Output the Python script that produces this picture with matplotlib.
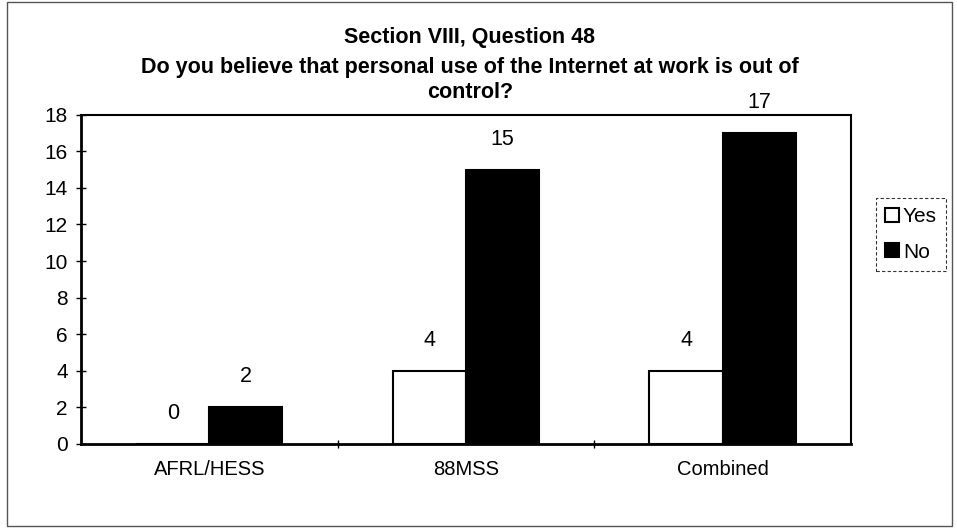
import numpy as np
import matplotlib
matplotlib.use('Agg')
import matplotlib.pyplot as plt
from matplotlib.patches import Rectangle

font = {'family': ['Liberation Sans', 'DejaVu Sans'], 'size': 14}
matplotlib.rc('font', **font)

## data
groups = ['AFRL/HESS', '88MSS', 'Combined']
yes = [0, 4, 4]
no = [2, 15, 17]
yticks = list(range(0, 19, 2))

## plot
fig = plt.figure(figsize=(9.57, 5.29), dpi=100)
ax = fig.add_axes([0.0846, 0.161, 0.8046, 0.622])

x = np.arange(len(groups))
w = 0.285
b_yes = ax.bar(x - w / 2, yes, w, color='white', edgecolor='black', linewidth=1.5, label='Yes')
b_no = ax.bar(x + w / 2, no, w, color='black', edgecolor='black', linewidth=1.5, label='No')

for bars, vals in [(b_yes, yes), (b_no, no)]:
    for r, v in zip(bars, vals):
        ax.annotate(str(v), (r.get_x() + r.get_width() / 2, v), xytext=(0, 22),
                    textcoords='offset points', ha='center', va='center', fontsize=15.5)

ax.set_xlim(-0.5, len(groups) - 0.5)
ax.set_ylim(0, 18)
ax.set_yticks(yticks)
ax.set_xticks(x)
ax.set_xticklabels(groups, fontsize=14.5)
ax.tick_params(axis='y', direction='inout', length=7, width=1, labelsize=15, pad=6)
ax.tick_params(axis='x', length=0, pad=12)
# small separators between the groups
ax.set_xticks(x[:-1] + 0.5, minor=True)
ax.tick_params(axis='x', which='minor', direction='inout', length=6, width=1)
for s in ax.spines.values():
    s.set_linewidth(1.5)
ax.spines['left'].set_linewidth(2)
ax.spines['bottom'].set_linewidth(2)

fig.text(0.491, 0.930, 'Section VIII, Question 48', ha='center', va='center',
         fontsize=15.5, fontweight='bold')
fig.text(0.491, 0.873, 'Do you believe that personal use of the Internet at work is out of',
         ha='center', va='center', fontsize=15.5, fontweight='bold')
fig.text(0.491, 0.826, 'control?', ha='center', va='center', fontsize=15.5, fontweight='bold')

leg = fig.legend(handles=[b_yes, b_no], loc='center', bbox_to_anchor=(0.952, 0.557),
                 frameon=True, fancybox=False, edgecolor='black', handlelength=0.65,
                 handleheight=0.65, handletextpad=0.2, labelspacing=0.8, borderpad=0.45,
                 fontsize=15)
leg.get_frame().set_linestyle((0, (3, 2)))
leg.get_frame().set_linewidth(0.8)

# outer chart border
fig.patches.append(Rectangle((0.007, 0.006), 0.988, 0.99, transform=fig.transFigure,
                             fill=False, edgecolor='#555555', linewidth=1))

fig.savefig('out.png', dpi=100)
